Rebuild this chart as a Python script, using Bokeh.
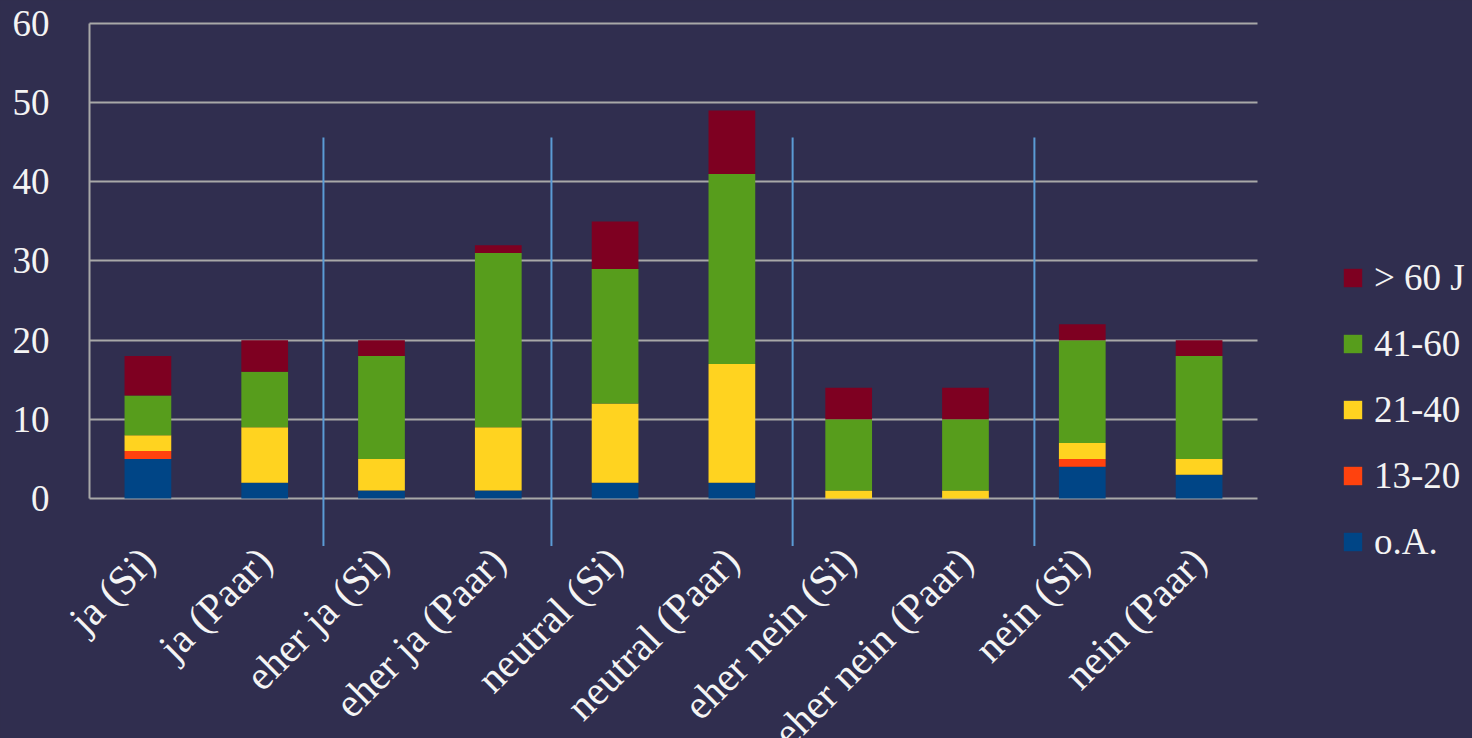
import math
from bokeh.plotting import figure
from bokeh.models import Range1d, FixedTicker, Legend, LegendItem, ColumnDataSource
from bokeh.embed import file_html
from bokeh.resources import INLINE

categories = ["ja (Si)", "ja (Paar)", "eher ja (Si)", "eher ja (Paar)", "neutral (Si)",
              "neutral (Paar)", "eher nein (Si)", "eher nein (Paar)", "nein (Si)", "nein (Paar)"]
series = ["o.A.", "13-20", "21-40", "41-60", "> 60 J"]
o_a = [5, 2, 1, 1, 2, 2, 0, 0, 4, 3]
age_13_20 = [1, 0, 0, 0, 0, 0, 0, 0, 1, 0]
age_21_40 = [2, 7, 4, 8, 10, 15, 1, 1, 2, 2]
age_41_60 = [5, 7, 13, 22, 17, 24, 9, 9, 13, 13]
age_60_plus = [5, 4, 2, 1, 6, 8, 4, 4, 2, 2]
colors = ["#004586", "#ff420e", "#ffd320", "#579d1c", "#7e0021"]
y_ticks = [0, 10, 20, 30, 40, 50, 60]
separator_x = [1.503, 3.455, 5.52, 7.59]
separator_top = 45.6
separator_bottom = -6.0

BG = "#302e4f"
GRID = "#a8a8a8"
TEXT = "#f4f4f4"
FONT = "Liberation Serif"

W, H = 1472, 738

keys = ["oa", "a13", "a21", "a41", "a60"]
source = ColumnDataSource(dict(x=list(range(len(categories))), oa=o_a, a13=age_13_20,
                               a21=age_21_40, a41=age_41_60, a60=age_60_plus))

n = len(categories)
p = figure(width=W, height=H, x_range=Range1d(-1.262, 11.341), y_range=Range1d(-30.316, 62.905),
           output_backend="svg", toolbar_location=None,
           min_border_left=0, min_border_right=0, min_border_top=0, min_border_bottom=0)
p.background_fill_color = BG
p.border_fill_color = BG
p.outline_line_color = None

# horizontal grid lines across the category area only
p.xgrid.visible = False
p.ygrid.ticker = FixedTicker(ticks=y_ticks)
p.ygrid.grid_line_color = GRID
p.ygrid.grid_line_width = 2
try:
    p.ygrid.cross_bounds = (-0.5, n - 0.5)
except Exception:
    p.ygrid.visible = False
    p.segment(x0=[-0.5] * len(y_ticks), x1=[n - 0.5] * len(y_ticks), y0=y_ticks, y1=y_ticks,
              line_color=GRID, line_width=2)

renderers = p.vbar_stack(keys, x="x", width=0.4, color=colors, line_color=None, source=source)

# group separators
p.segment(x0=separator_x, x1=separator_x, y0=[separator_bottom] * len(separator_x),
          y1=[separator_top] * len(separator_x), line_color="#5b9bd5", line_width=2)

# y axis
yax = p.yaxis[0]
yax.ticker = FixedTicker(ticks=y_ticks)
yax.fixed_location = -0.5
yax.bounds = (0, 60)
yax.axis_line_color = GRID
yax.axis_line_width = 2
yax.major_tick_line_color = None
yax.minor_tick_line_color = None
yax.major_label_standoff = 34
yax.major_label_text_font = FONT
yax.major_label_text_font_size = "37px"
yax.major_label_text_color = TEXT

# x axis
xax = p.xaxis[0]
xax.ticker = FixedTicker(ticks=list(range(n)))
xax.major_label_overrides = {i: c for i, c in enumerate(categories)}
xax.major_label_orientation = math.pi / 4
xax.fixed_location = separator_bottom
xax.axis_line_color = None
xax.major_tick_line_color = None
xax.minor_tick_line_color = None
xax.major_label_standoff = 2
xax.major_label_text_font = FONT
xax.major_label_text_font_size = "41px"
xax.major_label_text_color = TEXT

items = [LegendItem(label=s, renderers=[r]) for s, r in reversed(list(zip(series, renderers)))]
legend = Legend(items=items, location=(1341, 175), margin=0, padding=0,
                border_line_color=None, background_fill_alpha=0,
                glyph_width=23, glyph_height=23, label_height=42, spacing=23,
                label_standoff=10, label_text_font=FONT, label_text_font_size="37px",
                label_text_color=TEXT, label_text_baseline="middle")
p.add_layout(legend)

template = "{% block preamble %}<style>html, body { background: " + BG + "; }</style>{% endblock %}"
try:
    html = file_html(p, INLINE, title="Chart", template=template)
except Exception:
    html = file_html(p, INLINE, title="Chart")
open("out.html", "w").write(html)
